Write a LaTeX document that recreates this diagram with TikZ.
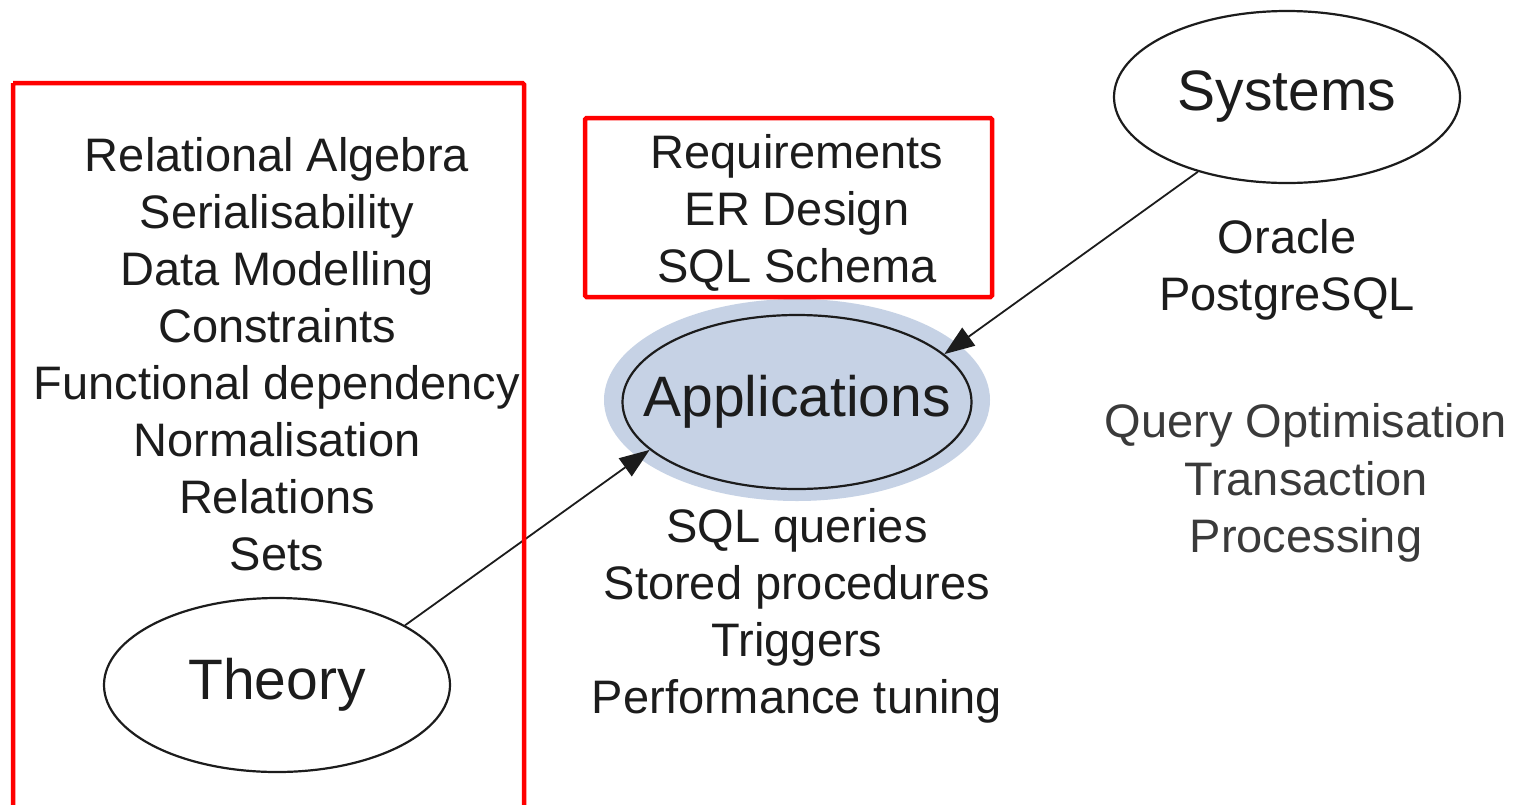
\documentclass[tikz,border=0pt]{standalone}
\usepackage{fontspec}
\setmainfont{Liberation Sans}
\usetikzlibrary{shapes.geometric,arrows.meta}
\definecolor{ink}{HTML}{1C1C1C}
\definecolor{greyink}{HTML}{3A3A3A}
\definecolor{glow}{HTML}{C6D2E5}
\definecolor{boxred}{HTML}{FF0000}
\tikzset{
  topic/.style={ellipse, draw=ink, line width=2.2pt, inner sep=0pt,
    text=ink, font=\fontsize{57}{57}\selectfont},
  listing/.style={align=center, text=ink, inner sep=0pt,
    font=\fontsize{47}{57}\selectfont},
  note/.style={align=center, text=greyink, inner sep=0pt,
    font=\fontsize{47}{57.5}\selectfont},
  redbox/.style={draw=boxred, line width=4.5pt, rounded corners=1.5pt},
  link/.style={draw=ink, line width=1.8pt,
    -{Triangle[length=30pt,width=22pt]}}
}
\begin{document}
\begin{tikzpicture}[x=1pt,y=-1pt]
\useasboundingbox (0,0) rectangle (1515,804);
\clip (0,0) rectangle (1515,804);
\fill[white] (0,0) rectangle (1515,804);

% highlighted central topic
\fill[glow] (797,400) ellipse [x radius=193, y radius=101];

% topic ellipses
\node[topic, minimum width=346pt, minimum height=172pt] (systems) at (1287,97) {Systems};
\node[topic, inner xsep=-32pt, minimum width=349pt, minimum height=174pt] (apps) at (797,402) {Applications};
\node[topic, minimum width=346pt, minimum height=174pt] (theory) at (277,685) {Theory};

% lists of subjects
\node[listing] (theorylist) at (277,354) {Relational Algebra\\Serialisability\\Data Modelling\\Constraints\\Functional dependency\\Normalisation\\Relations\\Sets};
\node[listing] (design) at (797,213) {Requirements\\ER Design\\SQL Schema};
\node[listing] (programming) at (797,616) {SQL queries\\Stored procedures\\Triggers\\Performance tuning};
\node[listing] (dbms) at (1287,270) {Oracle\\PostgreSQL};
\node[note] (internals) at (1306,483) {Query Optimisation\\Transaction\\Processing};

% connectors
\draw[link] (theory.25) -- (apps.198);
\draw[link] (systems.220) -- (apps.18);

% red frames
\draw[redbox] (13,83) -- (13,830) (524,830) -- (524,83) -- (13,83);
\draw[redbox] (585,118) rectangle (992,297);
\end{tikzpicture}
\end{document}
